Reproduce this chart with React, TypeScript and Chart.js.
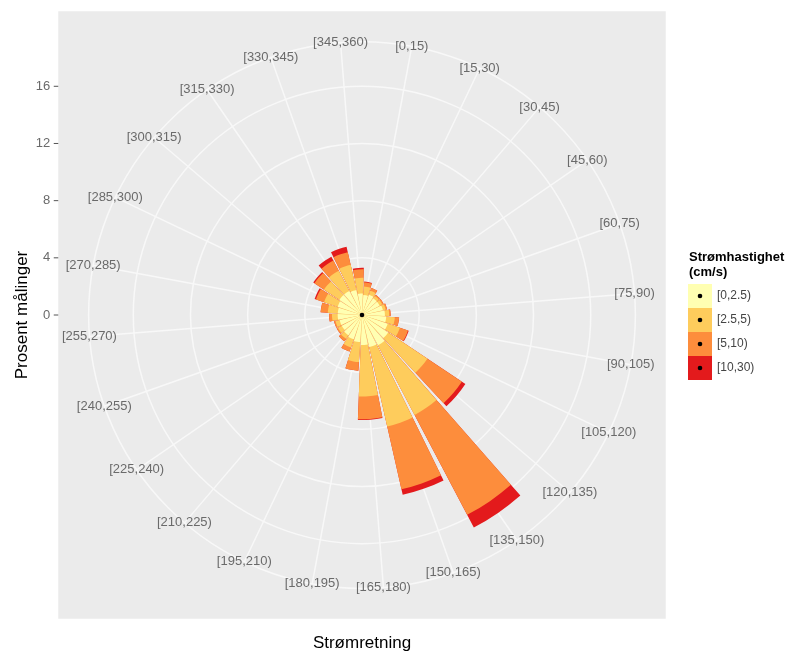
import React, { useEffect, useRef } from "react";
import { Chart, registerables } from "chart.js";

Chart.register(...registerables);

// ---- data ----
const directions = [
  "[0,15)", "[15,30)", "[30,45)", "[45,60)", "[60,75)", "[75,90)",
  "[90,105)", "[105,120)", "[120,135)", "[135,150)", "[150,165)", "[165,180)",
  "[180,195)", "[195,210)", "[210,225)", "[225,240)", "[240,255)", "[255,270)",
  "[270,285)", "[285,300)", "[300,315)", "[315,330)", "[330,345)", "[345,360)",
];
const speedBins = ["[0,2.5)", "[2.5,5)", "[5,10)", "[10,30)"];
const binColors = ["#FFFFB2", "#FECC5C", "#FD8D3C", "#E31A1C"];

// percent of measurements per direction and speed bin
const pct0to2_5 = [1.4, 1.5, 1.4, 1.4, 1.5, 1.6, 1.7, 1.9, 2.2, 2.4, 2.3, 2.1, 1.9, 1.8, 1.7, 1.6, 1.6, 1.7, 1.7, 1.8, 1.9, 1.9, 1.8, 1.5];
const pct2_5to5 = [0.6, 0.3, 0.2, 0.2, 0.2, 0.3, 0.6, 0.9, 3.3, 5.5, 5.7, 3.6, 1.4, 0.6, 0.3, 0.3, 0.3, 0.4, 0.7, 1.0, 1.3, 1.6, 1.8, 1.1];
const pct5to10 = [0.3, 0.2, 0.1, 0.1, 0.1, 0.1, 0.3, 0.6, 2.9, 7.9, 4.5, 1.6, 0.6, 0.3, 0.2, 0.1, 0.1, 0.2, 0.5, 0.6, 0.8, 0.8, 0.9, 0.6];
const pct10to30 = [0.05, 0, 0, 0, 0, 0, 0, 0.05, 0.3, 1.0, 0.4, 0.05, 0, 0, 0, 0, 0, 0, 0, 0.1, 0.1, 0.3, 0.4, 0.1];

const yTicks = [0, 4, 8, 12, 16];
const rMax = 17;
const xTitle = "Strømretning";
const yTitle = "Prosent målinger";
const legendTitle = ["Strømhastighet", "(cm/s)"];

// ---- layout constants ----
const W = 788;
const H = 653;
const CX = 362;
const CY = 315;
const RAD = 243;
const ROT = 3; // degrees of rotation
const BAR = 0.9; // bar width fraction
const FONT = '"Liberation Sans", Arial, sans-serif';
const GRID = "#f8f8f8";

const n = directions.length;
const step = 360 / n;
const series = [pct0to2_5, pct2_5to5, pct5to10, pct10to30];
const cumulative = series.map((_, k) =>
  directions.map((_, i) => series.slice(0, k + 1).reduce((s, arr) => s + arr[i], 0))
);
const withGaps = (arr: number[]) => arr.flatMap((v) => [v, 0]);
const arcAngles = directions.flatMap(() => [step * BAR, step * (1 - BAR)]);
const arcLabels = directions.flatMap((d) => [d, ""]);

const dirAngle = (i: number) => (((i + 0.5) * step + ROT) * Math.PI) / 180 - Math.PI / 2;

const decor = {
  id: "roseDecor",
  beforeDraw(chart: any) {
    const ctx = chart.ctx;
    const s = chart.scales.r;
    const cx = s.xCenter;
    const cy = s.yCenter;
    const R = s.drawingArea;
    const half = (R * 0.5) / 0.4;
    const rOuter = (R * 0.45) / 0.4;
    ctx.save();
    ctx.fillStyle = "#ffffff";
    ctx.fillRect(0, 0, chart.width, chart.height);
    ctx.fillStyle = "#EBEBEB";
    ctx.fillRect(cx - half, cy - half, 2 * half, 2 * half);
    ctx.strokeStyle = GRID;
    ctx.lineWidth = 1.5;
    directions.forEach((_, i) => {
      const a = dirAngle(i);
      ctx.beginPath();
      ctx.moveTo(cx, cy);
      ctx.lineTo(cx + rOuter * Math.cos(a), cy + rOuter * Math.sin(a));
      ctx.stroke();
    });
    ctx.beginPath();
    ctx.arc(cx, cy, rOuter, 0, Math.PI * 2);
    ctx.stroke();
    ctx.restore();
  },
  afterDatasetsDraw(chart: any) {
    const ctx = chart.ctx;
    const s = chart.scales.r;
    ctx.save();
    ctx.fillStyle = "#000";
    ctx.beginPath();
    ctx.arc(s.xCenter, s.yCenter, 2.3, 0, Math.PI * 2);
    ctx.fill();
    ctx.restore();
  },
  afterDraw(chart: any) {
    const ctx = chart.ctx;
    const s = chart.scales.r;
    const cx = s.xCenter;
    const cy = s.yCenter;
    const R = s.drawingArea;
    const half = (R * 0.5) / 0.4;
    const rLab = (R * 0.45) / 0.4;
    ctx.save();
    // direction labels
    ctx.font = `13px ${FONT}`;
    ctx.fillStyle = "#6a6a6a";
    ctx.textAlign = "center";
    ctx.textBaseline = "middle";
    directions.forEach((d, i) => {
      const a = dirAngle(i);
      ctx.fillText(d, cx + rLab * Math.cos(a), cy + rLab * Math.sin(a));
    });
    // y axis ticks
    const left = cx - half;
    ctx.textAlign = "right";
    ctx.strokeStyle = "#555";
    ctx.lineWidth = 1;
    yTicks.forEach((t) => {
      const y = cy - s.getDistanceFromCenterForValue(t);
      ctx.fillText(String(t), left - 8, y);
      ctx.beginPath();
      ctx.moveTo(left - 4.5, y);
      ctx.lineTo(left, y);
      ctx.stroke();
    });
    // titles
    ctx.fillStyle = "#000";
    ctx.font = `17px ${FONT}`;
    ctx.textAlign = "center";
    ctx.fillText(xTitle, cx, 643);
    ctx.save();
    ctx.translate(22, cy);
    ctx.rotate(-Math.PI / 2);
    ctx.fillText(yTitle, 0, 0);
    ctx.restore();
    // legend
    const lx = 688;
    ctx.textAlign = "left";
    ctx.font = `bold 13px ${FONT}`;
    ctx.fillText(legendTitle[0], lx + 1, 257);
    ctx.fillText(legendTitle[1], lx + 1, 272);
    const keyTop = 284;
    const key = 24;
    ctx.font = `12px ${FONT}`;
    speedBins.forEach((b, k) => {
      const y0 = keyTop + k * key;
      ctx.fillStyle = binColors[k];
      ctx.fillRect(lx, y0, key, key);
      ctx.fillStyle = "#000";
      ctx.beginPath();
      ctx.arc(lx + key / 2, y0 + key / 2, 2.3, 0, Math.PI * 2);
      ctx.fill();
      ctx.fillStyle = "#444";
      ctx.fillText(b, lx + key + 5, y0 + key / 2);
    });
    ctx.restore();
  },
};

export default function App() {
  const ref = useRef<HTMLCanvasElement | null>(null);
  useEffect(() => {
    if (!ref.current) return;
    const chart = new Chart(ref.current, {
      type: "polarArea",
      data: {
        labels: arcLabels,
        datasets: cumulative.map((c, k) => ({
          label: speedBins[k],
          data: withGaps(c),
          backgroundColor: binColors[k],
          borderWidth: 0,
          angle: arcAngles,
        })) as any,
      },
      options: {
        responsive: false,
        maintainAspectRatio: false,
        animation: false,
        devicePixelRatio: 1,
        layout: {
          padding: { left: CX - RAD, right: W - CX - RAD, top: CY - RAD, bottom: H - CY - RAD },
        },
        plugins: { legend: { display: false }, tooltip: { enabled: false } },
        scales: {
          r: {
            min: 0,
            max: rMax,
            startAngle: ROT + (step * (1 - BAR)) / 2,
            ticks: { display: false, stepSize: 4, includeBounds: false },
            grid: { circular: true, color: GRID, lineWidth: 1.5 },
            angleLines: { display: false },
            pointLabels: { display: false },
          },
        },
      } as any,
      plugins: [decor],
    });
    return () => chart.destroy();
  }, []);
  return (
    <div style={{ position: "fixed", left: 0, top: 0, width: W, height: H, background: "#fff" }}>
      <canvas ref={ref} width={W} height={H} style={{ width: W, height: H, display: "block" }} />
    </div>
  );
}
